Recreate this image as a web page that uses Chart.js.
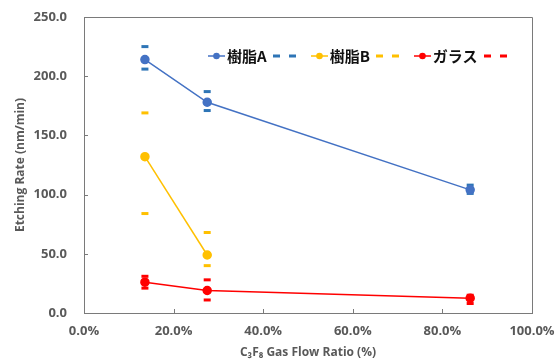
<!DOCTYPE html>
<html>
<head>
<meta charset="utf-8">
<script src="https://cdn.jsdelivr.net/npm/chart.js@4"></script>
<style>
  html, body { margin: 0; padding: 0; background: #fff; }
  #wrap { position: relative; width: 556px; height: 361px; }
  #legend { position: absolute; left: 208px; top: 45px; display: flex; align-items: center;
            font: bold 15px "Noto Sans CJK JP", "Open Sans", sans-serif; color: #111; white-space: nowrap; }
  #legend .item { display: flex; align-items: center; }
  #legend canvas { display: block; }
</style>
</head>
<body>
<div id="wrap">
  <canvas id="c" width="556" height="361"></canvas>
  <div id="legend"></div>
</div>
<script>
// ---- data ----
const flowRatio = [0.136, 0.275, 0.862];           // C3F8 gas flow ratio
const resinA      = [214, 178, 104];
const resinAUpper = [225, 187, 108];
const resinALower = [206, 171, 101];
const resinB      = [132, 49];
const resinBUpper = [169, 68];
const resinBLower = [84, 40];
const glass       = [26, 19, 12.5];
const glassUpper  = [31, 28, 15];
const glassLower  = [21, 11, 8];
const seriesNames = ['樹脂A', '樹脂B', 'ガラス'];
const xTicks = [0, 0.2, 0.4, 0.6, 0.8, 1.0];
const yTicks = [0, 50, 100, 150, 200, 250];

const pts = (ys) => ys.map((y, i) => ({ x: flowRatio[i], y }));

const lineColors = ['#4472C4', '#FFC000', '#FF0000'];
const dashColors = ['#2E75B6', '#FFC000', '#FF0000'];

function mainSet(label, ys, color) {
  return { label, data: pts(ys), showLine: true, borderColor: color, backgroundColor: color,
           borderWidth: 1.5, pointRadius: 4, pointHoverRadius: 4, pointStyle: 'circle', order: 1 };
}
function dashSet(ys, color) {
  return { label: '', data: pts(ys), showLine: false, borderColor: color, backgroundColor: color,
           borderWidth: 3, pointRadius: 3.5, pointHoverRadius: 3.5, pointStyle: 'line', order: 2 };
}

const datasets = [
  mainSet(seriesNames[0], resinA, lineColors[0]),
  dashSet(resinAUpper, dashColors[0]), dashSet(resinALower, dashColors[0]),
  mainSet(seriesNames[1], resinB, lineColors[1]),
  dashSet(resinBUpper, dashColors[1]), dashSet(resinBLower, dashColors[1]),
  mainSet(seriesNames[2], glass, lineColors[2]),
  dashSet(glassUpper, dashColors[2]), dashSet(glassLower, dashColors[2]),
];

const axisColor = '#7a7a7a';
const tickFont = { family: '"Open Sans", sans-serif', size: 13, weight: 'bold' };

const framePlugin = {
  id: 'frame',
  afterDraw(chart) {
    const { ctx, chartArea: a, scales } = chart;
    ctx.save();
    ctx.strokeStyle = axisColor;
    ctx.lineWidth = 1;
    ctx.beginPath();
    ctx.moveTo(a.left, a.top + 0.5); ctx.lineTo(a.right + 0.5, a.top + 0.5);
    ctx.lineTo(a.right + 0.5, a.bottom);
    ctx.stroke();
    // inward tick marks
    ctx.beginPath();
    yTicks.forEach(v => { const y = Math.round(scales.y.getPixelForValue(v)) + 0.5;
      ctx.moveTo(a.left, y); ctx.lineTo(a.left + 4, y); });
    xTicks.forEach(v => { const x = Math.round(scales.x.getPixelForValue(v)) + 0.5;
      ctx.moveTo(x, a.bottom); ctx.lineTo(x, a.bottom - 4); });
    ctx.stroke();
    ctx.restore();
  }
};

new Chart(document.getElementById('c'), {
  type: 'scatter',
  data: { datasets },
  options: {
    responsive: false,
    animation: false,
    layout: { padding: { left: 0, right: 24, top: 17, bottom: 0 } },
    plugins: { legend: { display: false }, tooltip: { enabled: false } },
    scales: {
      x: {
        type: 'linear', min: 0, max: 1,
        afterBuildTicks: (s) => { s.ticks = xTicks.map(v => ({ value: v })); },
        afterFit: (s) => { s.height = 48; s.paddingLeft = 0; s.paddingRight = 0; },
        grid: { display: true, drawOnChartArea: false, drawTicks: false },
        border: { display: true, color: axisColor, width: 1 },
        ticks: { color: '#595959', font: tickFont, padding: 10,
                 callback: (v) => (v * 100).toFixed(1) + '%' },
        title: { display: true, text: 'C₃F₈ Gas Flow Ratio (%)', color: '#595959',
                 font: { family: '"Open Sans", sans-serif', size: 12, weight: 'bold' },
                 padding: { top: 0, bottom: 1 } }
      },
      y: {
        type: 'linear', min: 0, max: 250,
        afterBuildTicks: (s) => { s.ticks = yTicks.map(v => ({ value: v })); },
        afterFit: (s) => { s.width = 84; s.paddingTop = 0; s.paddingBottom = 0; },
        grid: { display: true, drawOnChartArea: false, drawTicks: false },
        border: { display: true, color: axisColor, width: 1 },
        ticks: { color: '#595959', font: tickFont, padding: 17,
                 callback: (v) => Number(v).toFixed(1) },
        title: { display: true, text: 'Etching Rate (nm/min)', color: '#595959',
                 font: { family: '"Open Sans", sans-serif', size: 12, weight: 'bold' },
                 padding: { top: 13, bottom: 0 } }
      }
    }
  },
  plugins: [framePlugin]
});

// ---- HTML legend built from the datasets ----
const legend = document.getElementById('legend');
function markerCanvas(color) {
  const c = document.createElement('canvas'); c.width = 17; c.height = 10;
  const g = c.getContext('2d');
  g.strokeStyle = color; g.lineWidth = 1.5;
  g.beginPath(); g.moveTo(0, 5); g.lineTo(17, 5); g.stroke();
  g.fillStyle = color; g.beginPath(); g.arc(8.5, 5, 3.3, 0, Math.PI * 2); g.fill();
  return c;
}
function dashCanvas(color) {
  const c = document.createElement('canvas'); c.width = 7; c.height = 10;
  const g = c.getContext('2d'); g.fillStyle = color; g.fillRect(0, 3.5, 7, 3);
  return c;
}
let dashCount = 0;
datasets.forEach((ds) => {
  const item = document.createElement('span'); item.className = 'item';
  if (ds.label) {
    item.style.marginLeft = legend.children.length ? '15px' : '0';
    item.appendChild(markerCanvas(ds.borderColor));
    const t = document.createElement('span'); t.textContent = ds.label; t.style.marginLeft = '2px';
    item.appendChild(t);
    dashCount = 0;
  } else {
    item.style.marginLeft = dashCount === 0 ? '6px' : '9px';
    dashCount++;
    item.appendChild(dashCanvas(ds.borderColor));
  }
  legend.appendChild(item);
});
</script>
</body>
</html>
